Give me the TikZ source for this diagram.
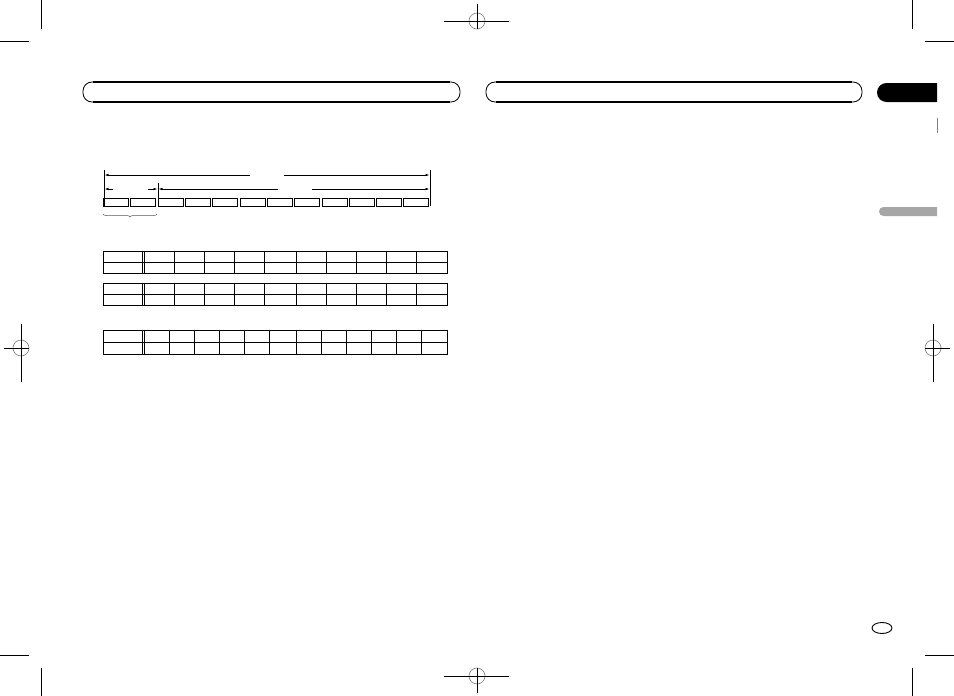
\documentclass[tikz,border=0pt]{standalone}
\usetikzlibrary{arrows.meta,decorations.pathreplacing}
\begin{document}
\begin{tikzpicture}[x=1pt,y=-1pt,
  crop/.style={line width=0.9pt,black},
  reg/.style={line width=0.8pt,black},
  regcircle/.style={line width=0.6pt,gray},
  cell/.style={line width=0.8pt,black},
  dim/.style={line width=0.7pt,black},
  tip/.style={-{Latex[length=4pt,width=2.6pt]}},
  headbar/.style={line width=0.8pt,black,rounded corners=9pt},
  headedge/.style={line width=2pt,black}
]
\useasboundingbox (0,0) rectangle (954,696);
\fill[white] (0,0) rectangle (954,696);
% crop marks
\draw[crop] (41,0) -- (41,29);
\draw[crop] (0,41) -- (29,41);
\draw[crop] (912,0) -- (912,29);
\draw[crop] (925,41) -- (954,41);
\draw[crop] (0,655) -- (29,655);
\draw[crop] (41,668) -- (41,696);
\draw[crop] (925,655) -- (954,655);
\draw[crop] (912,668) -- (912,696);
% registration marks
\draw[regcircle] (477,21) circle (8);
\draw[reg] (444,21) -- (509,21);
\draw[reg] (477,4) -- (477,29);
\draw[regcircle] (477,676) circle (8);
\draw[reg] (444,676) -- (509,676);
\draw[reg] (477,668) -- (477,693);
\draw[regcircle] (21,348) circle (8);
\draw[reg] (21,324) -- (21,382);
\draw[reg] (4,348) -- (29,348);
\draw[regcircle] (933,348) circle (8);
\draw[reg] (933,324) -- (933,382);
\draw[reg] (925,348) -- (950,348);
% header bars
\draw[headbar] (83,82) rectangle (460,102);
\draw[headedge] (93,82) -- (450,82);
\draw[headedge] (93,102) -- (450,102);
\draw[headbar] (486,82) rectangle (862,102);
\draw[headedge] (496,82) -- (852,82);
\draw[headedge] (496,102) -- (852,102);
% black tab
\fill[black] (937,83) -- (886.5,83) arc[start angle=-90,end angle=-270,radius=9.5] -- (937,102) -- cycle;
\draw[line width=0.8pt,gray] (937,118) -- (937,133);
\fill[gray!70] (937,207) -- (883.5,207) arc[start angle=-90,end angle=-270,radius=4.5] -- (937,216) -- cycle;
% page ellipse
\draw[line width=0.9pt] (882,628) ellipse (10 and 5.5);
% dimension lines
\draw[dim] (104,170) -- (104,206);
\draw[dim] (430,170) -- (430,206);
\draw[dim] (158,183) -- (158,206);
\draw[dim,tip] (250,175) -- (104.5,175);
\draw[dim,tip] (284,175) -- (429.5,175);
\draw[dim,tip] (113,189) -- (104.5,189);
\draw[dim,tip] (148,189) -- (157.5,189);
\draw[dim,tip] (278,189) -- (158.5,189);
\draw[dim,tip] (312,189) -- (429.5,189);
% boxes
\foreach \i in {0,...,11}{
  \draw[cell] ({103.5+27.3*\i},198.5) rectangle ++(25,7.5);
}
% brace
\draw[line width=0.5pt,gray!70!black,decorate,decoration={brace,mirror,amplitude=3pt}] (103,214) -- (157,214);
% tables
\foreach \ya/\yb/\yc in {251/262/273, 283/294/305}{
  \draw[cell] (103,\ya) rectangle (447,\yc);
  \draw[cell] (103,\yb) -- (447,\yb);
  \draw[cell] (142,\ya) -- (142,\yc);
  \draw[cell] (144,\ya) -- (144,\yc);
  \foreach \x in {174,204,234,264,296,326,356,386,416}{
    \draw[cell] (\x,\ya) -- (\x,\yc);
  }
}
\draw[cell] (103,330) rectangle (447,354);
\draw[cell] (103,342) -- (447,342);
\draw[cell] (142,330) -- (142,354);
\draw[cell] (144,330) -- (144,354);
\foreach \x in {169,194,219,244,269,296,321,346,371,396,421}{
  \draw[cell] (\x,330) -- (\x,354);
}
\end{tikzpicture}
\end{document}
